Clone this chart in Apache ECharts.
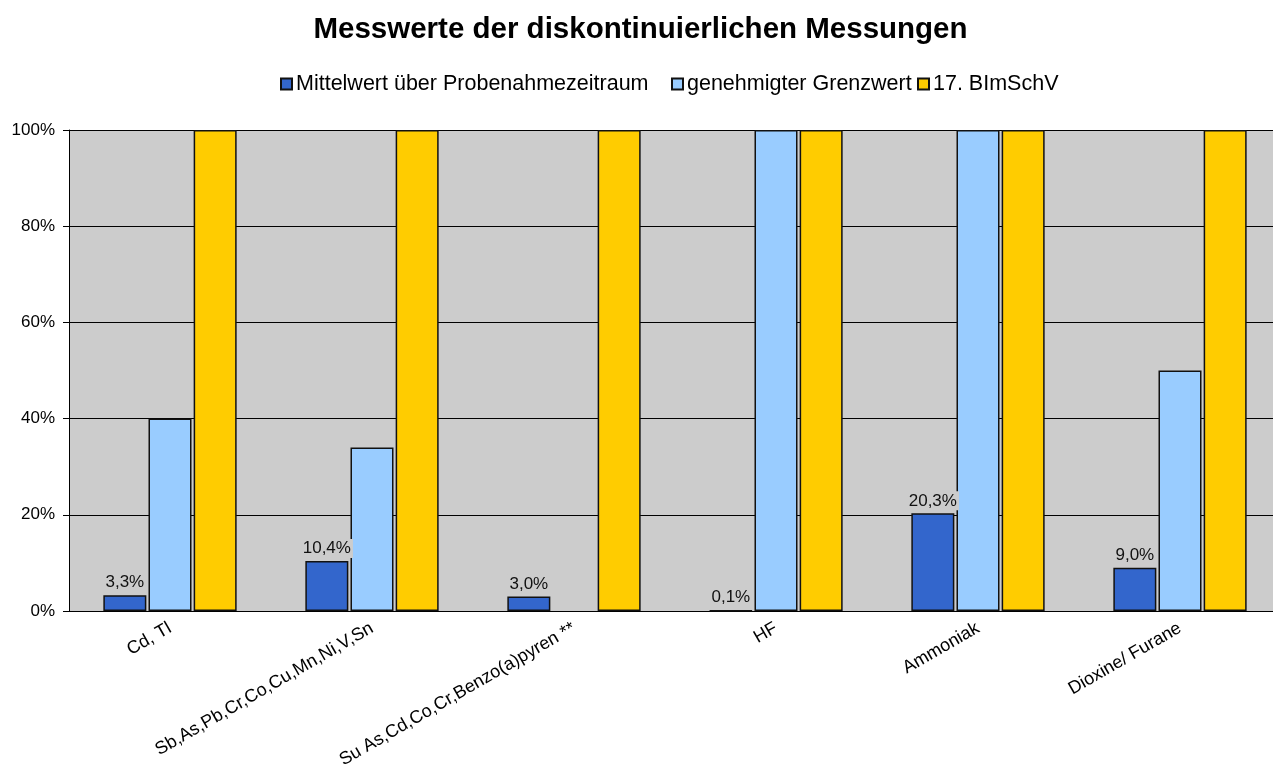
<!DOCTYPE html>
<html>
<head>
<meta charset="utf-8">
<script src="https://cdn.jsdelivr.net/npm/echarts@6/dist/echarts.min.js"></script>
<style>
  html, body { margin: 0; padding: 0; background: #fff; overflow: hidden; }
  #chart { width: 1281px; height: 772px; }
</style>
</head>
<body>
<div id="chart"></div>
<script>
// Kategorien (x-Achse)
const categories = [
  'Cd, Tl',
  'Sb,As,Pb,Cr,Co,Cu,Mn,Ni,V,Sn',
  'Su As,Cd,Co,Cr,Benzo(a)pyren **',
  'HF',
  'Ammoniak',
  'Dioxine/ Furane'
];
const seriesNames = ['Mittelwert über Probenahmezeitraum', 'genehmigter Grenzwert', '17. BImSchV'];
// Werte in Prozent
const mittelwert = [3.3, 10.4, 3.0, 0.1, 20.3, 9.0];
const grenzwert = [40, 34, null, 100, 100, 50];
const bimschv = [100, 100, 100, 100, 100, 100];
const yTicks = [0, 20, 40, 60, 80, 100];

const chart = echarts.init(document.getElementById('chart'));

const font = 'Liberation Sans, Arial, sans-serif';
const border = { borderColor: '#111', borderWidth: 1.5 };
const legendLeft = [275, 666, 912];

function fmt(v) {
  return v.toFixed(1).replace('.', ',') + '%';
}

chart.setOption({
  animation: false,
  backgroundColor: '#fff',
  title: {
    text: 'Messwerte der diskontinuierlichen Messungen',
    left: 'center',
    top: 10,
    textStyle: { fontFamily: font, fontSize: 29.5, fontWeight: 'bold', color: '#000' }
  },
  // Excel-Legende: feste Positionen je Eintrag
  legend: seriesNames.map((n, i) => ({
    data: [n],
    left: legendLeft[i],
    top: 68,
    icon: 'rect',
    itemWidth: 11,
    itemHeight: 11,
    textStyle: { fontFamily: font, fontSize: 21.5, color: '#000', padding: [0, 0, 0, -1] }
  })),
  grid: {
    left: 69,
    top: 130,
    right: 0,
    bottom: 161,
    show: true,
    backgroundColor: '#cccccc',
    borderWidth: 0
  },
  xAxis: {
    type: 'category',
    data: categories,
    axisLine: { lineStyle: { color: '#000', width: 1 } },
    axisTick: { length: 6, lineStyle: { color: '#000' } },
    axisLabel: {
      rotate: 30,
      margin: 16,
      interval: 0,
      fontFamily: font,
      fontSize: 18,
      color: '#000'
    }
  },
  yAxis: {
    type: 'value',
    min: 0,
    max: 100,
    interval: 20,
    axisLine: { show: true, lineStyle: { color: '#000', width: 1 } },
    axisTick: { show: true, length: 6, lineStyle: { color: '#000' } },
    splitLine: { lineStyle: { color: '#000', width: 1 } },
    axisLabel: {
      margin: 14,
      fontFamily: font,
      fontSize: 17,
      color: '#000',
      formatter: v => (yTicks.includes(v) ? v + '%' : '')
    }
  },
  series: [
    {
      name: seriesNames[0],
      type: 'bar',
      data: mittelwert,
      barCategoryGap: '34%',
      barGap: '5%',
      itemStyle: Object.assign({ color: '#3366cc' }, border),
      label: {
        show: true,
        position: 'top',
        distance: 3,
        fontFamily: font,
        fontSize: 17,
        color: '#111',
        backgroundColor: '#cccccc',
        padding: [1, 2],
        formatter: p => fmt(p.value)
      }
    },
    {
      name: seriesNames[1],
      type: 'bar',
      data: grenzwert,
      barCategoryGap: '34%',
      barGap: '5%',
      itemStyle: Object.assign({ color: '#99ccff' }, border)
    },
    {
      name: seriesNames[2],
      type: 'bar',
      data: bimschv,
      barCategoryGap: '34%',
      barGap: '5%',
      itemStyle: Object.assign({ color: '#ffcc00' }, border)
    }
  ]
});
</script>
</body>
</html>
